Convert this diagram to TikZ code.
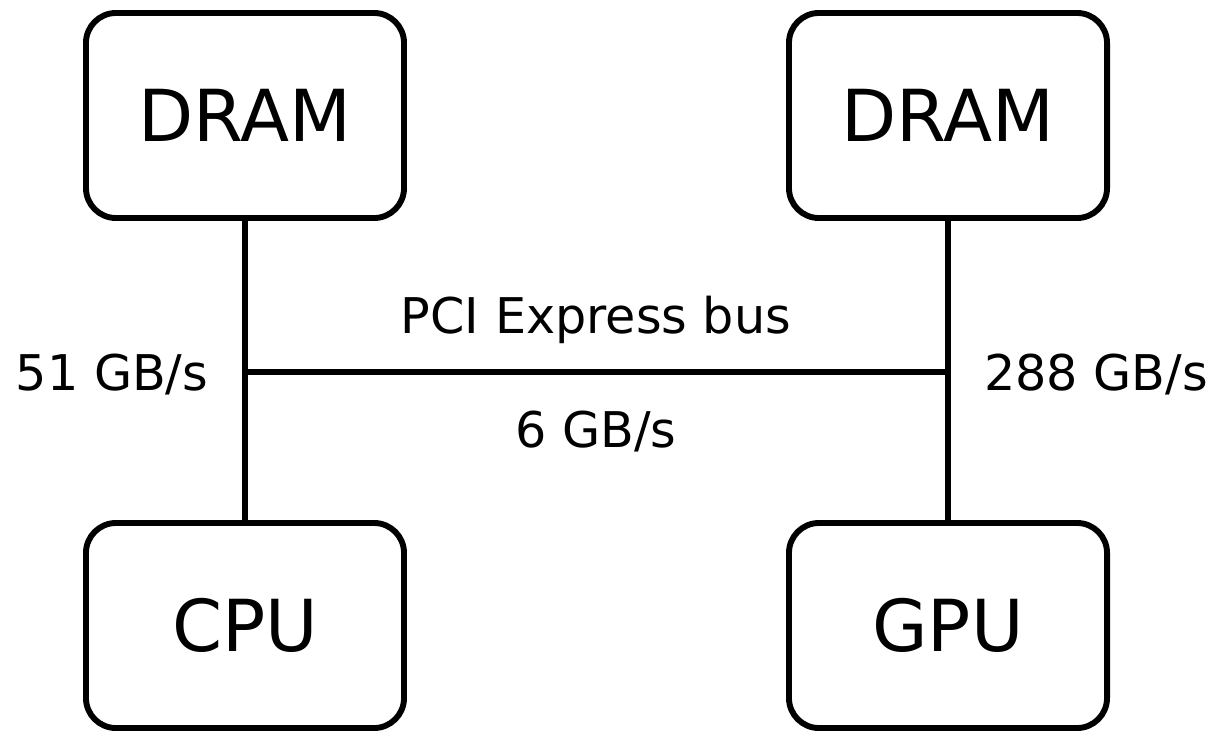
\documentclass[tikz,border=0pt]{standalone}
\usepackage{fontspec}
\setmainfont{DejaVu Sans}
\begin{document}
\begin{tikzpicture}[x=0.025cm,y=-0.025cm]
            \tikzstyle{unit}=[draw,line width=4.2pt,rounded corners=0.75cm,minimum width=7.95cm,minimum height=5.125cm,inner sep=0,font=\fontsize{51}{60}\selectfont]
            \tikzstyle{link}=[line width=4.1pt]
            \tikzstyle{rate}=[anchor=base,font=\fontsize{35}{42}\selectfont]

            \useasboundingbox (0,0) rectangle (1217,732);

            \node(dram1)[unit] at (245,115.5){DRAM};
            \node(cpu)[unit] at (245,625.5){CPU};
            \node(dram2)[unit] at (948,115.5){DRAM};
            \node(gpu)[unit] at (948,625.5){GPU};

            \coordinate(bus1) at (245,372);
            \coordinate(bus2) at (948,372);

            \draw[link] (dram1.south) -- (cpu.north);
            \draw[link] (dram2.south) -- (gpu.north);
            \draw[link] (bus1) -- (bus2);

            \node(rate1)[rate] at (112,390){51 GB/s};
            \node(rate2)[rate] at (1096,390){288 GB/s};
            \node(pcie)[rate] at (596,333){PCI Express bus};
            \node(rate3)[rate] at (596,447){6 GB/s};
\end{tikzpicture}
\end{document}
